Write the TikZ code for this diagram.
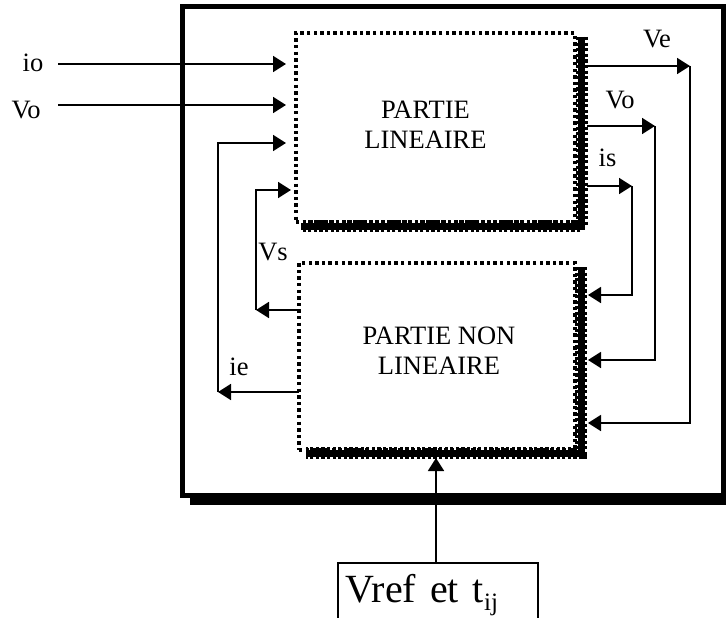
\documentclass[tikz,border=0pt]{standalone}
\usepackage{fontspec}
\setmainfont{Liberation Serif}
\usetikzlibrary{arrows.meta}
\begin{document}
\begin{tikzpicture}[x=1pt,y=-1pt,
  conn/.style={line width=1.8pt},
  arr/.style={conn,-{Triangle[length=13pt,width=16pt]}},
  lbl/.style={font=\fontsize{26.5}{30}\selectfont, inner sep=0pt, anchor=base},
  boxtext/.style={font=\fontsize{26.5}{30}\selectfont, inner sep=0pt, align=center},
  dotbox/.style={draw, line width=3.2pt, dash pattern=on 3.4pt off 3.2pt, inner sep=0pt, outer sep=0pt},
  bandcore/.style={line width=7pt},
  bandbump/.style={line width=12pt, dash pattern=on 3.2pt off 2.4pt},
  framebox/.style={draw, line width=5pt, inner sep=0pt, outer sep=0pt},
  plainbox/.style={inner sep=0pt, outer sep=0pt},
]
\useasboundingbox (0,0) rectangle (726,618);

% outer frame with shadow
\node[framebox, minimum width=541.5pt, minimum height=489pt] (frame) at (452.75,251) {};
\coordinate (shA) at (190,501);
\coordinate (shB) at (727,501);
\draw[line width=8pt] (shA) -- (shB);

% upper dotted box
\node[dotbox, minimum width=279pt, minimum height=189pt] (lin) at (435.5,127.5) {};
\draw[bandcore] (581.5,37) -- (581.5,226) -- (301,226);
\draw[bandbump] (581.5,37) -- (581.5,226) -- (301,226);
\node[boxtext] (linT) at (425.5,124.3) {PARTIE\\LINEAIRE};

% lower dotted box
\node[dotbox, minimum width=276pt, minimum height=187pt] (nl) at (437,356.5) {};
\draw[bandcore] (581,267) -- (581,453) -- (306,453);
\draw[bandbump] (581,267) -- (581,453) -- (306,453);
\node[boxtext] (nlT) at (439,351) {PARTIE NON\\LINEAIRE};

% right edges of the shadow bands
\coordinate (linR) at (587,127);
\coordinate (nlR) at (588,356);
\coordinate (nlB) at (437,458);

% left inputs
\node[lbl] (io) at (33,71) {io};
\node[lbl] (vo1) at (26,118) {Vo};
\coordinate (ioS) at (58,64);
\coordinate (voS) at (58,105);
\draw[arr, shorten >=10pt] (ioS) -- (ioS -| lin.west);
\draw[arr, shorten >=10pt] (voS) -- (voS -| lin.west);

% ie feedback
\coordinate (ieC) at (218,392);
\coordinate (ieT) at (218,143);
\draw[arr] (ieC -| nl.west) -- (ieC);
\draw[arr, shorten >=10pt] (ieC) -- (ieT) -- (ieT -| lin.west);
\node[lbl] (ie) at (239,375) {ie};

% Vs feedback
\coordinate (vsC) at (256,310);
\coordinate (vsT) at (256,190);
\draw[arr] (vsC -| nl.west) -- (vsC);
\draw[arr, shorten >=5pt] (vsC) -- (vsT) -- (vsT -| lin.west);
\node[lbl] (vs) at (273,260) {Vs};

% right side outputs
\coordinate (veC) at (690,66);
\coordinate (veD) at (690,423);
\draw[arr] (veC -| linR) -- (veC);
\draw[arr] (veC) -- (veD) -- (veD -| nlR);
\node[lbl] (ve) at (657,48) {Ve};

\coordinate (voC) at (655,126);
\coordinate (voD) at (655,360);
\draw[arr] (voC -| linR) -- (voC);
\draw[arr] (voC) -- (voD) -- (voD -| nlR);
\node[lbl] (vo2) at (620,109) {Vo};

\coordinate (isC) at (632,186);
\coordinate (isD) at (632,295);
\draw[arr] (isC -| linR) -- (isC);
\draw[arr] (isC) -- (isD) -- (isD -| nlR);
\node[lbl] (is) at (607.5,166) {is};

% Vref box
\node[plainbox, minimum width=200pt, minimum height=57pt, anchor=north west] (vref) at (338,563) {};
\draw[line width=1.4pt] (vref.south west) -- (vref.north west) -- (vref.north east) -- (vref.south east);
\node[inner sep=0pt, anchor=base west, font=\fontsize{40}{44}\selectfont] (vrefT) at (345,602)
  {Vref\hspace{0.1em} et\hspace{0.1em} t\raisebox{-0.2em}{\fontsize{25}{25}\selectfont ij}};
\draw[arr] ([xshift=-2pt]vref.north) -- ([xshift=-2pt]vref.north |- nlB);
\end{tikzpicture}
\end{document}
